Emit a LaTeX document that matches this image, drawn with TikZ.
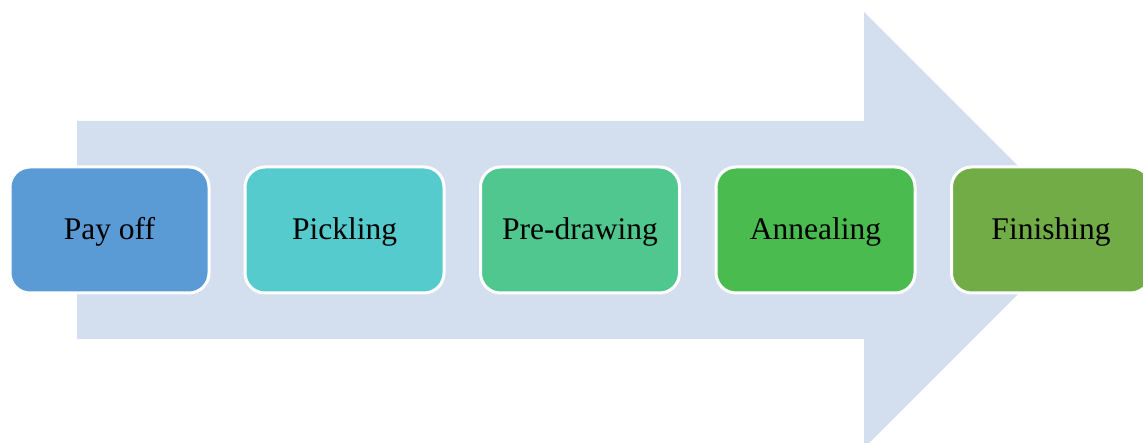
\documentclass[tikz,border=0pt]{standalone}
\usepackage{fontspec}
\setmainfont{Liberation Serif}
\definecolor{arrowc}{HTML}{D3DEEF}
\definecolor{c1}{HTML}{5B9BD5}
\definecolor{c2}{HTML}{55CBCD}
\definecolor{c3}{HTML}{50C78E}
\definecolor{c4}{HTML}{4ABB4F}
\definecolor{c5}{HTML}{71AC47}
\begin{document}
\begin{tikzpicture}[x=1pt,y=-1pt,
  stepbox/.style={draw=white, line width=3pt, rounded corners=20pt,
    minimum width=199pt, minimum height=126pt, inner sep=0pt,
    text height=24pt, text depth=4pt,
    font=\fontsize{31.5}{38}\selectfont, text=black}]
\useasboundingbox (0,0) rectangle (1143,443);
\clip (0,0) rectangle (1143,443);
\fill[arrowc] (77,121) -- (864,121) -- (864,12) -- (1082,230) -- (864,448) -- (864,339) -- (77,339) -- cycle;
\node[stepbox, fill=c1] (a) at (109.5,230) {Pay off};
\node[stepbox, fill=c2] (b) at (344.5,230) {Pickling};
\node[stepbox, fill=c3] (c) at (580,230) {Pre-drawing};
\node[stepbox, fill=c4] (d) at (815.5,230) {Annealing};
\node[stepbox, fill=c5] (e) at (1051,230) {Finishing};
\end{tikzpicture}
\end{document}
